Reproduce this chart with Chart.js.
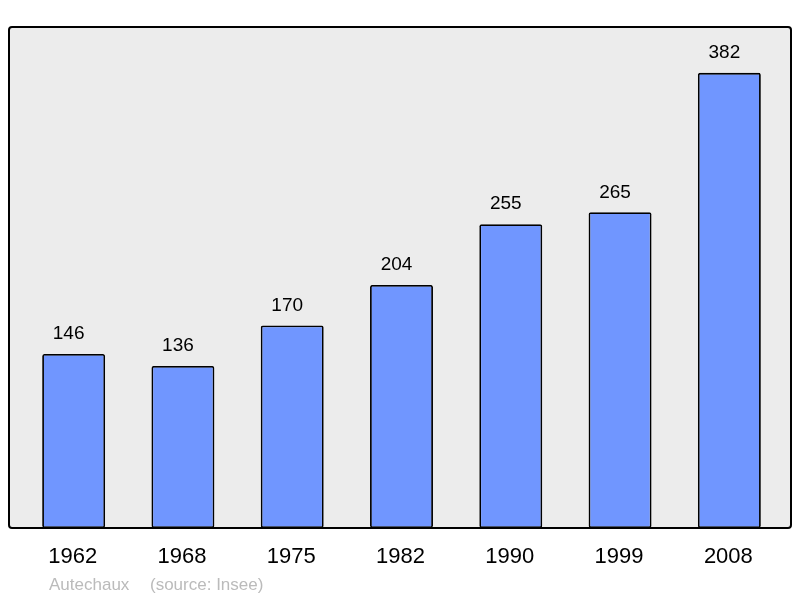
<!DOCTYPE html>
<html>
<head>
<meta charset="utf-8">
<script src="https://cdn.jsdelivr.net/npm/chart.js@4/dist/chart.umd.min.js"></script>
<style>
  html, body { margin: 0; padding: 0; background: #fff; }
  #wrap { width: 800px; height: 598px; position: relative; }
</style>
</head>
<body>
<div id="wrap"><canvas id="popChart"></canvas></div>
<script>
var years = ['1962', '1968', '1975', '1982', '1990', '1999', '2008'];
var population = [146, 136, 170, 204, 255, 265, 382];
var commune = 'Autechaux';
var source = '(source: Insee)';

// frame behind the bars, a bit wider than the chart area
var framePlugin = {
    id: 'frame',
    beforeDatasetsDraw: function(chart) {
        var ctx = chart.ctx;
        var a = chart.chartArea;
        ctx.save();
        ctx.beginPath();
        ctx.roundRect(9, a.top, 782, a.bottom - a.top, 3);
        ctx.fillStyle = '#ececec';
        ctx.fill();
        ctx.restore();
    },
    afterDatasetsDraw: function(chart) {
        var ctx = chart.ctx;
        var a = chart.chartArea;
        var meta = chart.getDatasetMeta(0);
        var xs = chart.scales.x;
        ctx.save();
        ctx.beginPath();
        ctx.roundRect(9, a.top, 782, a.bottom - a.top, 3);
        ctx.lineWidth = 2;
        ctx.strokeStyle = '#000';
        ctx.stroke();

        ctx.fillStyle = '#000';
        ctx.textAlign = 'center';
        ctx.textBaseline = 'middle';
        ctx.font = '19px "Liberation Sans", Arial, sans-serif';
        meta.data.forEach(function(bar, i) {
            ctx.fillText(String(population[i]), bar.x - 5, bar.y - 20);
        });

        ctx.font = '22px "Liberation Sans", Arial, sans-serif';
        years.forEach(function(yr, i) {
            ctx.fillText(yr, xs.getPixelForValue(i) - 1, 557);
        });

        ctx.textAlign = 'left';
        ctx.fillStyle = '#bbbbbb';
        ctx.font = '17px "Liberation Sans", Arial, sans-serif';
        ctx.fillText(commune, 49, 585);
        ctx.fillText(source, 150, 585);
        ctx.restore();
    }
};

var ctx = document.getElementById('popChart').getContext('2d');
var popChart = new Chart(ctx, {
    type: 'bar',
    data: {
        labels: years,
        datasets: [{
            data: population,
            backgroundColor: '#7096ff',
            borderColor: '#000',
            borderWidth: 1.8,
            borderRadius: 2,
            borderSkipped: false,
            barPercentage: 0.576,
            categoryPercentage: 1
        }]
    },
    options: {
        responsive: true,
        maintainAspectRatio: false,
        animation: false,
        layout: { padding: { left: 19, right: 16, top: 27, bottom: 70 } },
        plugins: {
            legend: { display: false },
            tooltip: { enabled: false }
        },
        scales: {
            x: { display: false },
            y: { display: false, min: 0, max: 420.5 }
        }
    },
    plugins: [framePlugin]
});
</script>
</body>
</html>
